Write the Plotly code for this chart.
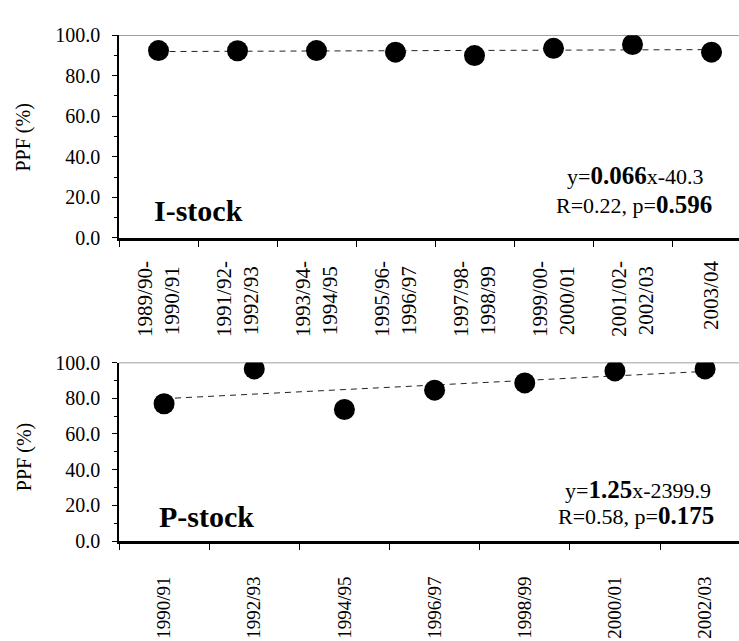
import numpy as np
import plotly.graph_objects as go

# ---------------- data ----------------
i_line1 = ["1989/90-", "1991/92-", "1993/94-", "1995/96-", "1997/98-", "1999/00-", "2001/02-", ""]
i_line2 = ["1990/91", "1992/93", "1994/95", "1996/97", "1998/99", "2000/01", "2002/03", "2003/04"]
i_ppf = [92.4, 92.3, 92.4, 91.6, 89.9, 93.5, 95.4, 91.6]

p_labels = ["1990/91", "1992/93", "1994/95", "1996/97", "1998/99", "2000/01", "2002/03"]
p_ppf = [76.9, 96.4, 73.7, 84.5, 88.6, 95.3, 96.4]

y_ticks = [0, 20, 40, 60, 80, 100]
y_ticktext = ["0.0", "20.0", "40.0", "60.0", "80.0", "100.0"]

i_eq = "y=<b><span style='font-size:25px'>0.066</span></b>x-40.3"
i_stat = "R=0.22, p=<b><span style='font-size:25px'>0.596</span></b>"
p_eq = "y=<b><span style='font-size:25px'>1.25</span></b>x-2399.9"
p_stat = "R=0.58, p=<b><span style='font-size:25px'>0.175</span></b>"

FONT = "Liberation Serif"
W, H = 739, 641


def px(x, y):
    return x / W, 1 - y / H


fig = go.Figure()

# ---------------- traces ----------------
def add_panel(vals, xa, ya):
    idx = np.arange(len(vals))
    slope, icpt = np.polyfit(idx, vals, 1)
    xt = [idx[0], idx[-1]]
    fig.add_trace(go.Scatter(x=xt, y=[icpt + slope * v for v in xt], mode="lines",
                             line=dict(color="#222222", width=1, dash="6px,5px"),
                             xaxis=xa, yaxis=ya, showlegend=False, hoverinfo="skip"))
    fig.add_trace(go.Scatter(x=idx, y=vals, mode="markers",
                             marker=dict(color="black", size=21),
                             xaxis=xa, yaxis=ya, showlegend=False))


add_panel(i_ppf, "x", "y")
add_panel(p_ppf, "x2", "y2")

# ---------------- axes ----------------
n_i = len(i_ppf)
n_p = len(p_ppf)

i_tickvals, i_ticktext = [], []
for k, (a, b) in enumerate(zip(i_line1, i_line2)):
    if a:
        i_tickvals += [k - 0.17, k + 0.17]
        i_ticktext += [a, b + "\u00a0"]
    else:
        i_tickvals.append(k)
        i_ticktext.append(b)

xcommon = dict(showline=True, linecolor="black", linewidth=2.5, showgrid=False,
               zeroline=False, ticks="", tickangle=-90)

fig.update_layout(
    xaxis=dict(domain=[119 / W, 1], anchor="y", range=[-0.5, 7.348],
               tickmode="array", tickvals=i_tickvals, ticktext=i_ticktext,
               ticklabelstandoff=12,
               tickfont=dict(family=FONT, size=21, color="black"),
               minor=dict(tickmode="array", tickvals=[k - 0.5 for k in range(n_i + 1)],
                          ticks="outside", ticklen=6, tickwidth=1, tickcolor="black"),
               **xcommon),
    xaxis2=dict(domain=[119 / W, 1], anchor="y2", range=[-0.5, 6.376],
                tickmode="array", tickvals=list(range(n_p)), ticktext=p_labels,
                ticklabelstandoff=25,
                tickfont=dict(family=FONT, size=19, color="black"),
                minor=dict(tickmode="array", tickvals=[k - 0.5 for k in range(n_p + 1)],
                           ticks="outside", ticklen=6, tickwidth=1, tickcolor="black"),
                **xcommon),
)

ycommon = dict(range=[0, 100], tickmode="array", tickvals=y_ticks, ticktext=y_ticktext,
               showline=True, linecolor="black", linewidth=1.5, showgrid=False,
               zeroline=False, ticks="outside", ticklen=5, tickwidth=1, tickcolor="black",
               ticklabelstandoff=8,
               minor=dict(dtick=10, ticks="outside", ticklen=3, tickwidth=1, tickcolor="black"),
               tickfont=dict(family=FONT, size=20, color="black"))

fig.update_layout(
    yaxis=dict(domain=[1 - 235 / H, 1 - 25 / H], anchor="x", **ycommon),
    yaxis2=dict(domain=[1 - 549 / H, 1 - 364 / H], anchor="x2", **ycommon),
)

# top border lines (gray) at 100
for xr, yr in [("x domain", "y"), ("x2 domain", "y2")]:
    fig.add_shape(type="line", xref=xr, yref=yr, x0=0, x1=1, y0=100, y1=100,
                  line=dict(color="#808080", width=1.5), layer="below")

# ---------------- annotations ----------------
def ann(text, x, y, xanchor="center", size=22, angle=0):
    xp, yp = px(x, y)
    fig.add_annotation(text=text, x=xp, y=yp, xref="paper", yref="paper",
                       xanchor=xanchor, yanchor="middle", showarrow=False,
                       textangle=angle, font=dict(family=FONT, size=size, color="black"))


ann("<b>I-stock</b>", 198, 207, size=30)
ann(i_eq, 706, 170, xanchor="right")
ann(i_stat, 714, 200, xanchor="right")
ann("<b>P-stock</b>", 206, 523, size=30)
ann(p_eq, 713, 495, xanchor="right")
ann(p_stat, 716, 522, xanchor="right")
ann("PPF (%)", 24, 131, size=20, angle=-90)
ann("PPF (%)", 24, 462, size=20, angle=-90)

fig.update_layout(width=W, height=H, margin=dict(l=0, r=0, t=0, b=0),
                  paper_bgcolor="white", plot_bgcolor="white")

fig.write_html("out.html")
